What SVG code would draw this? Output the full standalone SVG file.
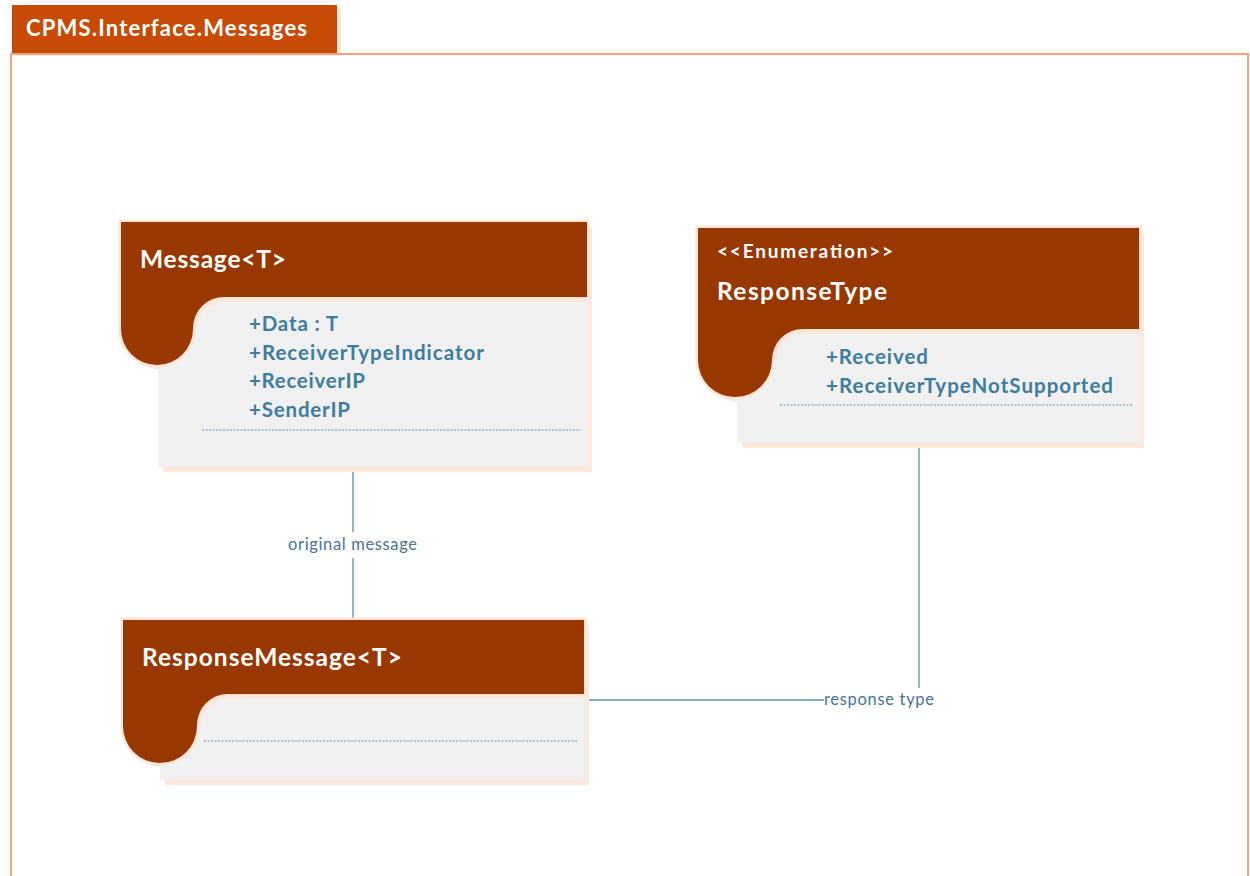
<svg xmlns="http://www.w3.org/2000/svg" width="1250" height="876" viewBox="0 0 1250 876">
  <style>
    .shadow { fill: #FCE8DD; }
    .head { fill: #983800; stroke: #FCE6DA; stroke-width: 5; paint-order: stroke; }
    .body { fill: #F1F1F1; }
    .title { font-family: Lato, "Liberation Sans", sans-serif; font-weight: bold; font-size: 24.5px; fill: #FFFFFF; }
    .stereo { font-family: Lato, "Liberation Sans", sans-serif; font-weight: bold; font-size: 19px; fill: #FFFFFF; }
    .attr { font-family: Lato, "Liberation Sans", sans-serif; font-weight: bold; font-size: 20.5px; fill: #3C7DA0; }
    .sep { stroke: #5E93B3; stroke-width: 1; stroke-dasharray: 2 1.5; fill: none; }
    .conn { stroke: #5B8FAA; stroke-width: 1.3; fill: none; }
    .lbl { font-family: Lato, "Liberation Sans", sans-serif; font-size: 16.5px; fill: #4A7492; }
  </style>

  <rect width="1250" height="876" fill="#FFFFFF"/>

  <!-- package frame -->
  <g id="package">
    <rect x="16" y="9" width="325" height="47" fill="#FCE8DD"/>
    <rect x="12" y="5" width="325" height="48" fill="#C84B05"/>
    <path d="M11 876 V54 H1248 V876" fill="none" stroke="#EEA27E" stroke-width="2"/>
    <text x="26" y="36" font-family="Lato, 'Liberation Sans', sans-serif" font-weight="bold" font-size="22" fill="#FFFFFF" textLength="281" lengthAdjust="spacing">CPMS.Interface.Messages</text>
  </g>

  <!-- connectors -->
  <g id="connectors">
    <line class="conn" x1="353" y1="467" x2="353" y2="532"/>
    <line class="conn" x1="353" y1="558" x2="353" y2="620"/>
    <text class="lbl" x="288" y="550" textLength="129" lengthAdjust="spacing">original message</text>
    <line class="conn" x1="919" y1="443" x2="919" y2="688"/>
    <line class="conn" x1="587" y1="700" x2="824" y2="700"/>
    <text class="lbl" x="824" y="705" textLength="110" lengthAdjust="spacing">response type</text>
  </g>

  <!-- Message<T> -->
  <g id="node-message">
    <path class="shadow" d="M126 227 H592 V472 H163 V370 A36 36 0 0 1 126 334 Z"/>
    <path class="body" d="M158 467 V332 H198 A26 26 0 0 1 224 302 H587 V467 Z"/>
    <path class="head" d="M121 222 H587 V297 H224 A31 31 0 0 0 193 328 V329 A36 36 0 0 1 121 329 Z"/>
    <text class="title" x="140" y="268" textLength="146" lengthAdjust="spacing">Message&lt;T&gt;</text>
    <text class="attr" x="249" y="331" textLength="89" lengthAdjust="spacing">+Data : T</text>
    <text class="attr" x="249" y="360" textLength="235" lengthAdjust="spacing">+ReceiverTypeIndicator</text>
    <text class="attr" x="249" y="388" textLength="116" lengthAdjust="spacing">+ReceiverIP</text>
    <text class="attr" x="249" y="417" textLength="101" lengthAdjust="spacing">+SenderIP</text>
    <line class="sep" x1="202" y1="430" x2="581" y2="430"/>
  </g>

  <!-- ResponseType enumeration -->
  <g id="node-responsetype">
    <path class="shadow" d="M703 233 H1144 V448 H742 V402 A37 37 0 0 1 703 365 Z"/>
    <path class="body" d="M737 443 V360 H777 A26 26 0 0 1 803 334 H1139 V443 Z"/>
    <path class="head" d="M698 228 H1139 V329 H803 A31 31 0 0 0 772 360 A37 37 0 0 1 698 360 Z"/>
    <text class="stereo" x="717" y="258" textLength="176" lengthAdjust="spacing">&lt;&lt;Enumeration&gt;&gt;</text>
    <text class="title" x="717" y="300" textLength="170" lengthAdjust="spacing">ResponseType</text>
    <text class="attr" x="826" y="364" textLength="102" lengthAdjust="spacing">+Received</text>
    <text class="attr" x="826" y="393" textLength="287" lengthAdjust="spacing">+ReceiverTypeNotSupported</text>
    <line class="sep" x1="780" y1="405" x2="1133" y2="405"/>
  </g>

  <!-- ResponseMessage<T> -->
  <g id="node-responsemessage">
    <path class="shadow" d="M128 625 H589 V785 H165 V768 A37 37 0 0 1 128 731 Z"/>
    <path class="body" d="M160 780 V725 H202 A26 26 0 0 1 228 699 H584 V780 Z"/>
    <path class="head" d="M123 620 H584 V694 H228 A31 31 0 0 0 197 725 V726 A37 37 0 0 1 123 726 Z"/>
    <text class="title" x="142" y="666" textLength="260" lengthAdjust="spacing">ResponseMessage&lt;T&gt;</text>
    <line class="sep" x1="204" y1="741" x2="578" y2="741"/>
  </g>
</svg>
